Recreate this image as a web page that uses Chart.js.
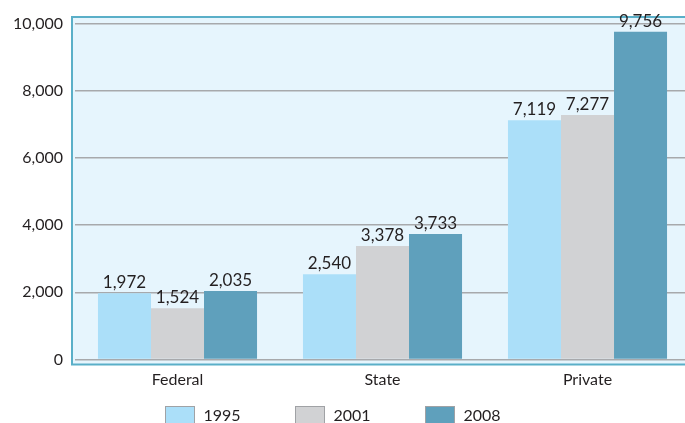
<!DOCTYPE html>
<html>
<head>
<meta charset="utf-8">
<script src="https://cdn.jsdelivr.net/npm/chart.js@4.4.0/dist/chart.umd.min.js"></script>
<style>
  html, body { margin: 0; padding: 0; background: #fff; overflow: hidden; }
  #wrap { width: 690px; height: 423px; }
</style>
</head>
<body>
<div id="wrap"><canvas id="sector_chart" width="690" height="423"></canvas></div>
<script>
var categories = ["Federal", "State", "Private"];
var years = ["1995", "2001", "2008"];
var values1995 = [1972, 2540, 7119];
var values2001 = [1524, 3378, 7277];
var values2008 = [2035, 3733, 9756];
var yTicks = [0, 2000, 4000, 6000, 8000, 10000];

var colors = ["#abdff9", "#d1d2d4", "#5fa0bc"];
var textColor = "#231f20";
var fontFamily = "Lato, 'Open Sans', sans-serif";

/* light blue panel with teal frame behind the plot */
var framePlugin = {
  id: "frame",
  beforeDraw: function (chart) {
    var ctx = chart.ctx;
    var a = chart.chartArea;
    var x = a.left - 3, y = a.top - 6.5;
    var w = chart.width - x + 5, h = a.bottom + 5 - y;
    ctx.save();
    ctx.fillStyle = "#e6f5fd";
    ctx.fillRect(x, y, w, h);
    ctx.strokeStyle = "#5aafc8";
    ctx.lineWidth = 2;
    ctx.strokeRect(x, y, w, h);
    ctx.restore();
  },
};

/* value labels above each bar */
var dataLabelPlugin = {
  id: "dataLabels",
  afterDatasetsDraw: function (chart) {
    var ctx = chart.ctx;
    ctx.save();
    ctx.fillStyle = textColor;
    ctx.font = "17px " + fontFamily;
    ctx.textAlign = "center";
    ctx.textBaseline = "alphabetic";
    chart.data.datasets.forEach(function (dataset, i) {
      var meta = chart.getDatasetMeta(i);
      meta.data.forEach(function (bar, index) {
        var text = dataset.data[index].toLocaleString("en-US");
        ctx.fillText(text, bar.x, bar.y - 5);
      });
    });
    ctx.restore();
  },
};

/* legend along the bottom, cut by the lower edge like the original */
var legendPlugin = {
  id: "bottomLegend",
  afterDraw: function (chart) {
    var ctx = chart.ctx;
    ctx.save();
    ctx.font = "16px " + fontFamily;
    ctx.textBaseline = "alphabetic";
    ctx.textAlign = "left";
    chart.data.datasets.forEach(function (dataset, i) {
      var bx = 165.5 + i * 130;
      var by = 406.5;
      ctx.fillStyle = dataset.backgroundColor;
      ctx.fillRect(bx, by, 29, 20);
      ctx.strokeStyle = "#a0a2a5";
      ctx.lineWidth = 1;
      ctx.strokeRect(bx, by, 29, 20);
      ctx.fillStyle = textColor;
      ctx.fillText(dataset.label, bx + 38, 421);
    });
    ctx.restore();
  },
};

var datasets = [values1995, values2001, values2008].map(function (vals, i) {
  return {
    label: years[i],
    data: vals,
    backgroundColor: colors[i],
    borderWidth: 0,
    barPercentage: 1.0,
    categoryPercentage: 0.776,
  };
});

new Chart("sector_chart", {
  type: "bar",
  data: {
    labels: categories,
    datasets: datasets,
  },
  options: {
    responsive: false,
    animation: false,
    layout: {
      padding: { top: 23.5, right: 0, bottom: 33.5, left: 0 },
    },
    plugins: {
      legend: { display: false },
      tooltip: { enabled: false },
    },
    scales: {
      y: {
        min: 0,
        max: 10000,
        afterFit: function (scale) {
          scale.width = 75;
        },
        afterBuildTicks: function (scale) {
          scale.ticks = yTicks.map(function (v) {
            return { value: v };
          });
        },
        ticks: {
          padding: 12,
          color: textColor,
          font: { family: fontFamily, size: 16 },
          callback: function (value) {
            return Number(value).toLocaleString("en-US");
          },
        },
        grid: {
          color: "#a7a9ac",
          lineWidth: 1.5,
          drawTicks: false,
        },
        border: { display: false },
      },
      x: {
        afterFit: function (scale) {
          scale.height = 30;
        },
        ticks: {
          padding: 11,
          color: textColor,
          font: { family: fontFamily, size: 16 },
        },
        grid: { display: false, drawTicks: false },
        border: { display: false },
      },
    },
  },
  plugins: [framePlugin, dataLabelPlugin, legendPlugin],
});
</script>
</body>
</html>
